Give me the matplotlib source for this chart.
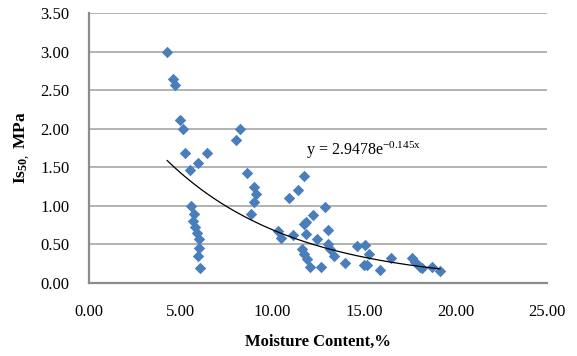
import numpy as np
import matplotlib
matplotlib.use('Agg')
import matplotlib.pyplot as plt

plt.rcParams['font.family'] = ['Liberation Serif', 'DejaVu Serif']
plt.rcParams['mathtext.fontset'] = 'custom'
plt.rcParams['mathtext.rm'] = 'Liberation Serif'
plt.rcParams['mathtext.it'] = 'Liberation Serif:italic'
plt.rcParams['mathtext.bf'] = 'Liberation Serif:bold'

# moisture content (%) and point load index Is50 (MPa)
moisture = [4.27, 4.60, 4.70, 4.98, 5.14, 5.25, 5.52, 5.96, 6.45, 8.04, 8.26,
            5.58, 5.72, 5.70, 5.80, 5.90, 5.98, 6.00, 5.97, 6.05,
            8.64, 9.00, 9.10, 9.00, 8.86,
            10.94, 11.38, 11.76, 12.90, 12.25, 11.87, 11.76, 13.07, 10.34, 10.50,
            11.16, 11.87, 12.42, 13.07, 13.13, 13.35, 11.65, 11.76, 11.92, 12.04,
            12.64, 13.95, 14.60, 15.04, 15.26, 14.99, 15.15, 15.86, 16.50, 17.60,
            17.80, 18.05, 18.20, 18.70, 19.15]
is50 = [3.00, 2.65, 2.57, 2.11, 1.99, 1.68, 1.47, 1.56, 1.68, 1.86, 2.00,
        1.00, 0.90, 0.80, 0.72, 0.65, 0.57, 0.46, 0.35, 0.20,
        1.43, 1.25, 1.15, 1.05, 0.89,
        1.10, 1.21, 1.39, 0.99, 0.88, 0.79, 0.76, 0.69, 0.68, 0.59,
        0.62, 0.63, 0.57, 0.50, 0.44, 0.35, 0.44, 0.37, 0.31, 0.21,
        0.21, 0.26, 0.48, 0.49, 0.37, 0.23, 0.23, 0.17, 0.33, 0.32,
        0.27, 0.21, 0.19, 0.21, 0.16]

# exponential trendline y = a * exp(b * x)
fit_a = 2.9478
fit_b = -0.145

fig = plt.figure(figsize=(5.77, 3.56), dpi=100)
ax = fig.add_axes([0.1542, 0.205, 0.794, 0.7585])

ax.scatter(moisture, is50, marker='D', s=34, color='#4A7EBB', zorder=3,
           linewidths=0)

xs = np.linspace(min(moisture), max(moisture), 200)
ax.plot(xs, fit_a * np.exp(fit_b * xs), color='black', lw=0.9, zorder=4)

ax.text(11.85, 1.72, r'y = 2.9478e$^{\mathrm{-0.145x}}$', fontsize=11.5,
        va='center', ha='left')

ax.set_xlim(0, 25)
ax.set_ylim(0, 3.5)
ax.set_xticks(np.arange(0, 25.1, 5))
ax.set_yticks(np.arange(0, 3.51, 0.5))
ax.xaxis.set_major_formatter(lambda v, p: f'{v:.2f}')
ax.yaxis.set_major_formatter(lambda v, p: f'{v:.2f}')
ax.tick_params(length=0, labelsize=12)
ax.tick_params(axis='x', pad=15)
ax.tick_params(axis='y', pad=14)

ax.grid(axis='y', color='#A6A6A6', lw=1.2)
ax.set_axisbelow(True)
for s in ['top', 'right']:
    ax.spines[s].set_visible(False)
for s in ['left', 'bottom']:
    ax.spines[s].set_color('#8C8C8C')
    ax.spines[s].set_linewidth(1.6)

ax.set_xlabel('Moisture Content,%', fontsize=12, fontweight='bold', labelpad=10)
ax.set_ylabel(r'Is$_{\mathbf{50},}$ MPa', fontsize=12.5, fontweight='bold', labelpad=6)

fig.savefig('out.png', dpi=100)
